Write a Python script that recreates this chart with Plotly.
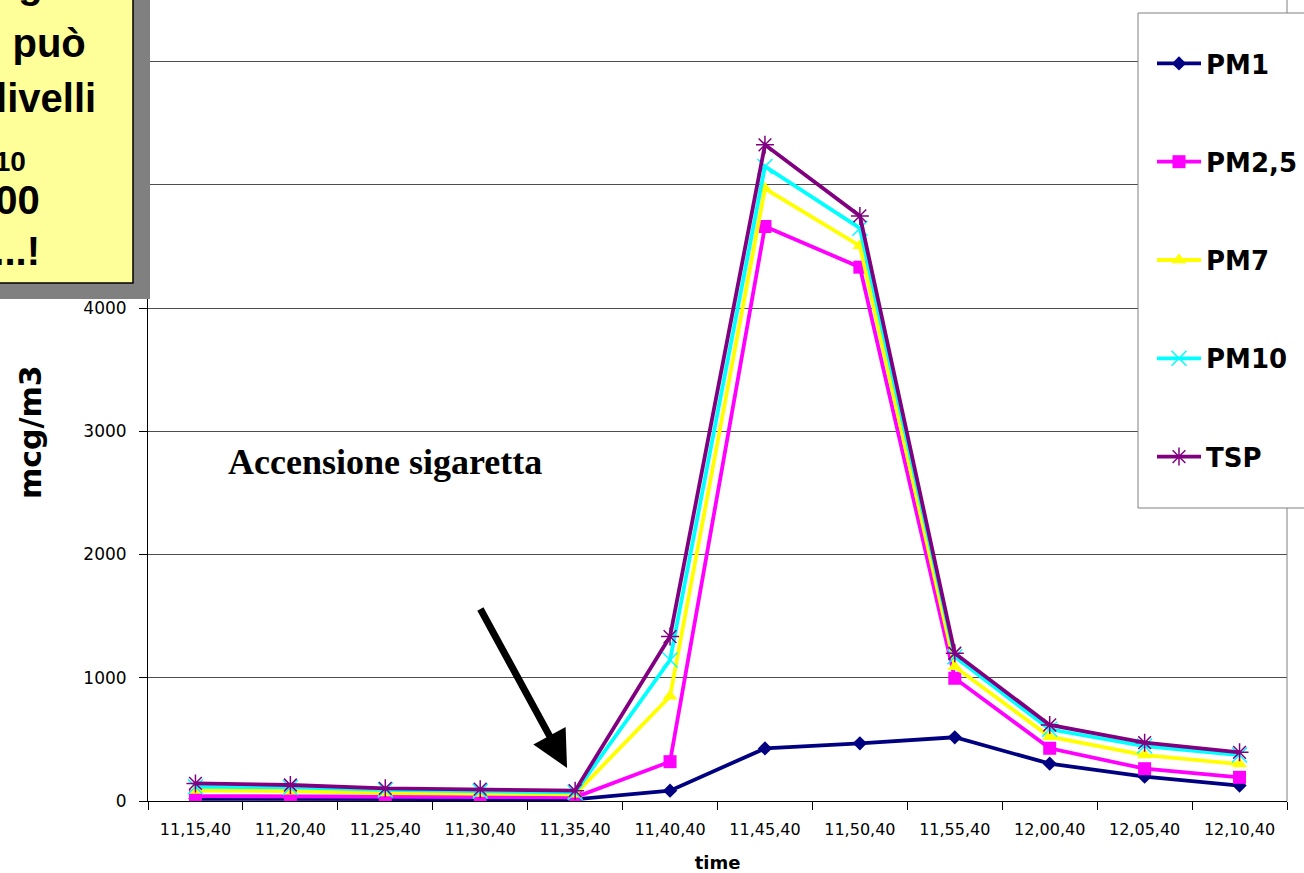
import plotly.graph_objects as go

# Sampling times (hh,mm,ss)
times = ["11,15,40", "11,20,40", "11,25,40", "11,30,40", "11,35,40", "11,40,40",
         "11,45,40", "11,50,40", "11,55,40", "12,00,40", "12,05,40", "12,10,40"]

# Particulate concentrations, mcg/m3
pm1 = [18, 18, 14, 14, 14, 84, 427, 468, 517, 303, 197, 125]
pm2_5 = [40, 38, 33, 33, 30, 319, 4662, 4332, 996, 428, 262, 192]
pm7 = [85, 80, 65, 60, 55, 850, 4970, 4505, 1090, 522, 373, 300]
pm10 = [115, 110, 90, 80, 70, 1144, 5149, 4648, 1171, 582, 446, 373]
tsp = [143, 130, 103, 96, 84, 1334, 5325, 4748, 1199, 617, 473, 395]

series_names = ["PM1", "PM2,5", "PM7", "PM10", "TSP"]
series_values = [pm1, pm2_5, pm7, pm10, tsp]
colors = ["#000080", "#FF00FF", "#FFFF00", "#00FFFF", "#800080"]
symbols = ["diamond", "square", "triangle-up", "x-thin-open", "asterisk-open"]
sizes = [11, 13, 13, 15, 15]

fig = go.Figure()
for i, (name, vals) in enumerate(zip(series_names, series_values)):
    thin = symbols[i].endswith("-open")
    fig.add_trace(go.Scatter(
        x=times, y=vals, name=name, mode="lines+markers",
        legendgroup=name,
        line=dict(color=colors[i], width=3.8),
        marker=dict(symbol=symbols[i], size=sizes[i], color=colors[i],
                    line=dict(color=colors[i], width=1.5 if thin else 0)),
    ))

W, H = 1304, 873
L, R, T, B = 148, 17, 0, 72
pw, ph = W - L - R, H - T - B


def px(xp):
    return (xp - L) / pw


def py(yp):
    return (H - B - yp) / ph


shapes = [
    # right border of the plot area
    dict(type="line", xref="paper", yref="paper", x0=1, x1=1, y0=0, y1=1,
         line=dict(color="#808080", width=1), layer="above"),
    # legend frame
    dict(type="rect", xref="paper", yref="paper", x0=px(1138), x1=px(1400),
         y0=py(508), y1=py(13), fillcolor="white",
         line=dict(color="#808080", width=1), layer="above"),
    # note box shadow and box
    dict(type="rect", xref="paper", yref="paper", x0=px(-300), x1=px(150),
         y0=py(299), y1=py(-100), fillcolor="#808080", line=dict(width=0),
         layer="above"),
    dict(type="rect", xref="paper", yref="paper", x0=px(-300), x1=px(133),
         y0=py(283), y1=py(-100), fillcolor="#FFFF99",
         line=dict(color="black", width=1.5), layer="above"),
]

box_font = dict(family="Liberation Sans, Arial", size=40, color="black")
note_lines = [
    ("Il fumo di 1 sigaretta da 1 g", 45, -16),
    ("accesa in casa  può", 88, 43),
    ("far salire i livelli", 98, 98),
    ("di PM<sub>10</sub>", 28, 152),
    ("fino a 5000", 42, 200),
    ("mcg/m3 ...!", 42, 251),
]
annotations = []
for txt, xr, yc in note_lines:
    annotations.append(dict(text="<b>" + txt + "</b>", xref="paper", yref="paper",
                            x=px(xr), y=py(yc), xanchor="right", yanchor="middle",
                            showarrow=False, font=box_font))

annotations += [
    dict(text="<b>Accensione sigaretta</b>", xref="x", yref="y", x=2.0, y=2750,
         showarrow=False, xanchor="center", yanchor="middle",
         font=dict(family="Liberation Serif, Times New Roman", size=36, color="black")),
    dict(text=" ", xref="x", yref="y", x=3.915, y=268, axref="x", ayref="y",
         ax=2.965, ay=1610, showarrow=True, arrowhead=2, arrowsize=1.05,
         arrowwidth=7, arrowcolor="black"),
    # y-axis title
    dict(text="<b>mcg/m3</b>", xref="paper", yref="paper", x=px(30), y=py(432),
         textangle=-90, showarrow=False, xanchor="center", yanchor="middle",
         font=dict(family="DejaVu Sans", size=30, color="black")),
]

fig.update_layout(
    width=W, height=H,
    margin=dict(l=L, r=R, t=T, b=B, autoexpand=False),
    paper_bgcolor="white", plot_bgcolor="white",
    font=dict(family="DejaVu Sans", color="black"),
    shapes=shapes, annotations=annotations,
    showlegend=True,
    legend=dict(x=px(1152), y=py(40), xanchor="left", yanchor="top",
                bgcolor="rgba(0,0,0,0)", borderwidth=0, tracegroupgap=61.5,
                itemwidth=44,
                font=dict(family="DejaVu Sans", size=26, color="black",
                          weight="bold")),
)
fig.update_xaxes(
    type="category", range=[-0.5, len(times) - 0.5],
    tickson="boundaries", ticks="outside", ticklen=8,
    tickcolor="black", showline=True, linecolor="black", linewidth=1,
    showgrid=False, automargin=False, ticklabelstandoff=14,
    tickfont=dict(family="DejaVu Sans", size=16, color="black"),
    title=dict(text="<b>time</b>", standoff=22,
               font=dict(family="DejaVu Sans", size=18, color="black")),
)
fig.update_yaxes(
    range=[0, 6500], dtick=1000, ticks="outside", ticklen=8, tickcolor="black",
    showline=True, linecolor="black", linewidth=1, zeroline=False,
    showgrid=True, gridcolor="#4d4d4d", gridwidth=1, automargin=False,
    ticklabelstandoff=9,
    tickfont=dict(family="DejaVu Sans", size=17, color="black"),
)

fig.write_html("out.html")
